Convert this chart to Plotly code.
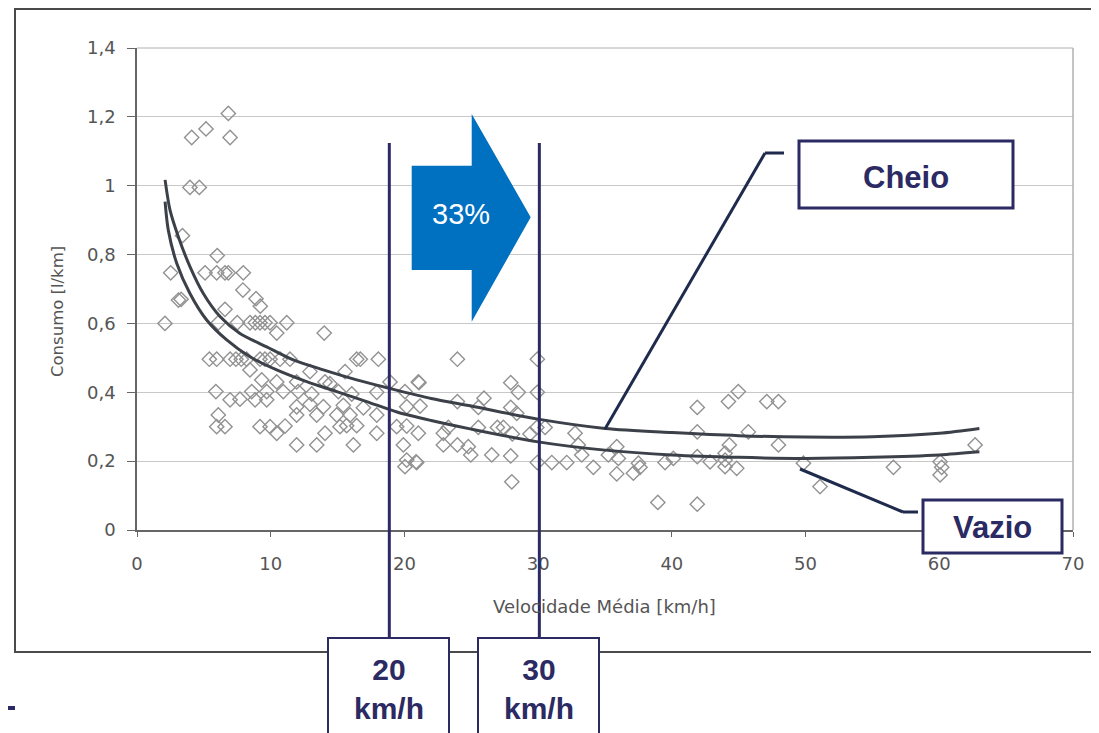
import plotly.graph_objects as go

# ---------------- data ----------------
speed = [6.83, 5.16, 4.09, 6.96, 3.96, 4.66, 3.40, 6.00, 2.52, 5.09, 5.96, 6.58, 6.83, 7.95,
         7.92, 3.10, 3.30, 8.90, 9.22, 6.58, 2.09, 6.08, 7.50, 8.45, 8.85, 9.20, 9.57, 9.95,
         11.20, 10.45, 14.00,
         5.41, 5.96, 6.96, 7.40, 7.80, 8.20, 9.20, 9.57, 9.95, 10.70, 11.44, 16.43, 16.70, 18.05,
         8.45, 15.56, 12.94, 9.33, 10.45, 11.94, 14.06, 14.43, 18.92, 21.04, 5.90, 8.58, 9.70,
         10.94, 12.06, 13.07, 15.06, 16.06, 17.93, 20.04, 6.96, 7.70, 8.83, 9.70, 11.94, 12.94,
         13.94, 15.43, 16.93, 20.17, 21.17, 6.08, 11.94, 13.44, 14.94, 15.93, 17.93, 5.96, 6.58,
         9.20, 9.95, 11.07, 15.18, 15.68, 16.43, 19.42, 20.17, 10.45, 14.06, 17.93, 21.04, 11.94,
         13.44, 16.18, 19.92, 20.17, 20.92, 20.04,
         23.96, 29.94, 21.09, 27.95, 28.52, 29.94, 25.95, 23.96, 25.53, 27.95, 28.40, 41.90,
         22.91, 23.28, 25.53, 26.95, 27.40, 28.07, 29.39, 29.90, 30.52, 32.76, 33.00, 33.26,
         35.88, 35.25, 36.00, 41.90, 41.90, 22.91, 23.96, 24.78, 24.96, 26.53, 27.95, 20.87,
         29.94, 31.02, 32.14, 34.13, 35.88, 37.12, 37.50, 37.62, 39.49, 40.11, 28.03, 38.95,
         41.90,
         44.97, 44.23, 47.10, 47.97, 45.72, 47.97, 44.30, 62.68, 42.86, 43.98, 43.98, 43.98,
         44.85, 49.84, 51.08, 56.57, 60.06, 60.18, 60.06]
consumo = [1.210, 1.165, 1.140, 1.140, 0.995, 0.995, 0.855, 0.797, 0.747, 0.747, 0.747, 0.747,
           0.747, 0.747, 0.697, 0.668, 0.670, 0.672, 0.650, 0.641, 0.600, 0.602, 0.602, 0.602,
           0.602, 0.602, 0.602, 0.602, 0.602, 0.572, 0.572,
           0.496, 0.496, 0.496, 0.496, 0.496, 0.496, 0.496, 0.496, 0.496, 0.496, 0.496, 0.496,
           0.496, 0.496, 0.465, 0.460, 0.460, 0.436, 0.430, 0.430, 0.430, 0.425, 0.430, 0.430,
           0.402, 0.402, 0.402, 0.402, 0.402, 0.395, 0.402, 0.395, 0.400, 0.402, 0.378, 0.380,
           0.378, 0.378, 0.358, 0.365, 0.358, 0.362, 0.355, 0.358, 0.360, 0.334, 0.334, 0.334,
           0.334, 0.334, 0.334, 0.300, 0.300, 0.300, 0.300, 0.302, 0.300, 0.303, 0.303, 0.300,
           0.302, 0.281, 0.281, 0.281, 0.281, 0.247, 0.247, 0.247, 0.247, 0.203, 0.196, 0.184,
           0.496, 0.496, 0.428, 0.428, 0.400, 0.400, 0.383, 0.373, 0.356, 0.356, 0.339, 0.356,
           0.281, 0.298, 0.298, 0.298, 0.298, 0.279, 0.279, 0.298, 0.298, 0.281, 0.247, 0.218,
           0.242, 0.218, 0.208, 0.285, 0.213, 0.247, 0.247, 0.242, 0.218, 0.218, 0.215, 0.198,
           0.196, 0.196, 0.196, 0.182, 0.163, 0.165, 0.194, 0.182, 0.196, 0.208, 0.140, 0.080,
           0.075,
           0.402, 0.373, 0.373, 0.373, 0.285, 0.247, 0.247, 0.247, 0.198, 0.223, 0.203, 0.184,
           0.179, 0.194, 0.126, 0.182, 0.198, 0.182, 0.160]

cheio_x = [2.1, 2.47, 3.09, 3.96, 4.96, 6.21, 7.7, 9.7, 11.69, 13.94, 16.43, 18.92, 22, 25, 30,
           35, 40, 45, 50, 55, 60, 63]
cheio_y = [1.017, 0.929, 0.852, 0.765, 0.687, 0.62, 0.571, 0.532, 0.494, 0.465, 0.436, 0.411,
           0.382, 0.36, 0.322, 0.295, 0.283, 0.274, 0.27, 0.271, 0.281, 0.295]
vazio_x = [2.1, 2.34, 2.97, 3.96, 5.21, 6.71, 8.45, 10.45, 12.69, 14.94, 17.18, 19.5, 22, 25, 30,
           35, 40, 45, 50, 55, 60, 63]
vazio_y = [0.954, 0.871, 0.775, 0.687, 0.61, 0.552, 0.503, 0.465, 0.431, 0.402, 0.373, 0.342,
           0.318, 0.293, 0.256, 0.232, 0.218, 0.211, 0.208, 0.211, 0.218, 0.227]

x_ticks = [0, 10, 20, 30, 40, 50, 60, 70]
y_ticks = [0, 0.2, 0.4, 0.6, 0.8, 1.0, 1.2, 1.4]
y_ticktext = ["0", "0,2", "0,4", "0,6", "0,8", "1", "1,2", "1,4"]
ref_speeds = [18.87, 30.09]
ref_labels = ["20<br>km/h", "30<br>km/h"]

# ---------------- layout helpers (page pixel -> paper) ----------------
PAGE_W, PAGE_H = 1099, 733
OFF = 8                      # default body margin of the html page
W, H = PAGE_W - OFF, PAGE_H - OFF
L, R, T, B = 137, 1073, 48, 530   # plot area in page pixels


def PX(px):
    return (px - L) / (R - L)


def PY(py):
    return (B - py) / (B - T)


NAVY = "#2b2a63"
LEAD = "#1f2b4d"
GRAY_TXT = "#555555"
FONT = "Liberation Sans, Arial, sans-serif"
AXFONT = "DejaVu Sans, sans-serif"

fig = go.Figure()
fig.add_trace(go.Scatter(x=speed, y=consumo, mode="markers",
                         marker=dict(symbol="diamond-open", size=11, color="#929292",
                                     line=dict(width=1.4, color="#929292")),
                         showlegend=False, hoverinfo="skip"))
fig.add_trace(go.Scatter(x=vazio_x, y=vazio_y, mode="lines",
                         line=dict(color="#3c4048", width=3, shape="spline", smoothing=0.8),
                         showlegend=False))
fig.add_trace(go.Scatter(x=cheio_x, y=cheio_y, mode="lines",
                         line=dict(color="#3c4048", width=3, shape="spline", smoothing=0.8),
                         showlegend=False))

shapes = []
# outer frame of the scanned chart
shapes.append(dict(type="rect", xref="paper", yref="paper", x0=PX(15), x1=PX(1120),
                   y0=PY(652), y1=PY(9), line=dict(color="#4a4a4a", width=2),
                   fillcolor="rgba(0,0,0,0)", layer="below"))
# plot area borders (top / right)
shapes.append(dict(type="line", xref="paper", yref="paper", x0=0, x1=1, y0=1, y1=1,
                   line=dict(color="#b0b0b0", width=1)))
shapes.append(dict(type="line", xref="paper", yref="paper", x0=1, x1=1, y0=0, y1=1,
                   line=dict(color="#b0b0b0", width=1.5)))
# bottom-left artifact
shapes.append(dict(type="line", xref="paper", yref="paper", x0=PX(8), x1=PX(15),
                   y0=PY(708), y1=PY(708), line=dict(color=NAVY, width=4)))

# reference speed lines and boxes
box_px = [(328, 449), (478, 599)]
for s, (bx0, bx1) in zip(ref_speeds, box_px):
    shapes.append(dict(type="line", xref="x", yref="paper", x0=s, x1=s,
                       y0=PY(640), y1=PY(143), line=dict(color=NAVY, width=3)))
    shapes.append(dict(type="rect", xref="paper", yref="paper", x0=PX(bx0), x1=PX(bx1),
                       y0=PY(760), y1=PY(638), line=dict(color=NAVY, width=2),
                       fillcolor="white"))

# big blue arrow
pts = [(411.7, 165.7), (471.7, 165.7), (471.7, 114), (530.7, 217.3), (471.7, 321.7),
       (471.7, 270), (411.7, 270)]
path = "M " + " L ".join(f"{PX(a):.5f},{PY(b):.5f}" for a, b in pts) + " Z"
shapes.append(dict(type="path", xref="paper", yref="paper", path=path,
                   fillcolor="#0070c0", line=dict(width=0)))

# leader lines
cheio_lead = [(605, 429), (765, 153), (784, 153)]
vazio_lead = [(800, 469), (903, 512), (918, 512)]
for lead in (cheio_lead, vazio_lead):
    for (a0, b0), (a1, b1) in zip(lead[:-1], lead[1:]):
        shapes.append(dict(type="line", xref="paper", yref="paper", x0=PX(a0), x1=PX(a1),
                           y0=PY(b0), y1=PY(b1), line=dict(color=LEAD, width=3)))

# label boxes
shapes.append(dict(type="rect", xref="paper", yref="paper", x0=PX(799), x1=PX(1013),
                   y0=PY(208), y1=PY(141), line=dict(color=NAVY, width=3), fillcolor="white"))
shapes.append(dict(type="rect", xref="paper", yref="paper", x0=PX(923), x1=PX(1062),
                   y0=PY(553), y1=PY(500), line=dict(color=NAVY, width=3), fillcolor="white"))


def ann(text, px, py, size, color, family=FONT, angle=0):
    return dict(text=text, x=PX(px), y=PY(py), xref="paper", yref="paper",
                xanchor="center", yanchor="middle", showarrow=False, textangle=angle,
                font=dict(family=family, size=size, color=color))


annotations = [
    ann("Consumo [l/km]", 57, 312, 16.5, GRAY_TXT, AXFONT, -90),
    ann("Velocidade Média [km/h]", 604, 607, 18, GRAY_TXT, AXFONT),
    ann("33%", 461, 214, 29, "white"),
    ann("<b>Cheio</b>", 906, 177, 31, NAVY),
    ann("<b>Vazio</b>", 992, 527, 31, NAVY),
]
for (bx0, bx1), lab in zip(box_px, ref_labels):
    annotations.append(ann(f"<b>{lab}</b>", (bx0 + bx1) / 2, 689, 30, NAVY))

fig.update_layout(
    width=W, height=H,
    margin=dict(l=L - OFF, r=PAGE_W - R, t=T - OFF, b=PAGE_H - B),
    paper_bgcolor="white", plot_bgcolor="white",
    shapes=shapes, annotations=annotations,
    font=dict(family=AXFONT, size=17, color=GRAY_TXT),
    xaxis=dict(range=[0, 70], tickvals=x_ticks, showgrid=False, zeroline=False,
               showline=True, linecolor="#666666", linewidth=1.5, ticks="outside",
               ticklen=5, tickcolor="#666666", ticklabelstandoff=12,
               tickfont=dict(family=AXFONT, size=18, color=GRAY_TXT)),
    yaxis=dict(range=[0, 1.4], tickvals=y_ticks, ticktext=y_ticktext, showgrid=True,
               gridcolor="#c8c8c8", gridwidth=1, zeroline=False, showline=True,
               linecolor="#666666", linewidth=1.5, ticks="outside", ticklen=8,
               tickcolor="#666666", ticklabelstandoff=8,
               tickfont=dict(family=AXFONT, size=18, color=GRAY_TXT)),
)

fig.write_html("out.html")
